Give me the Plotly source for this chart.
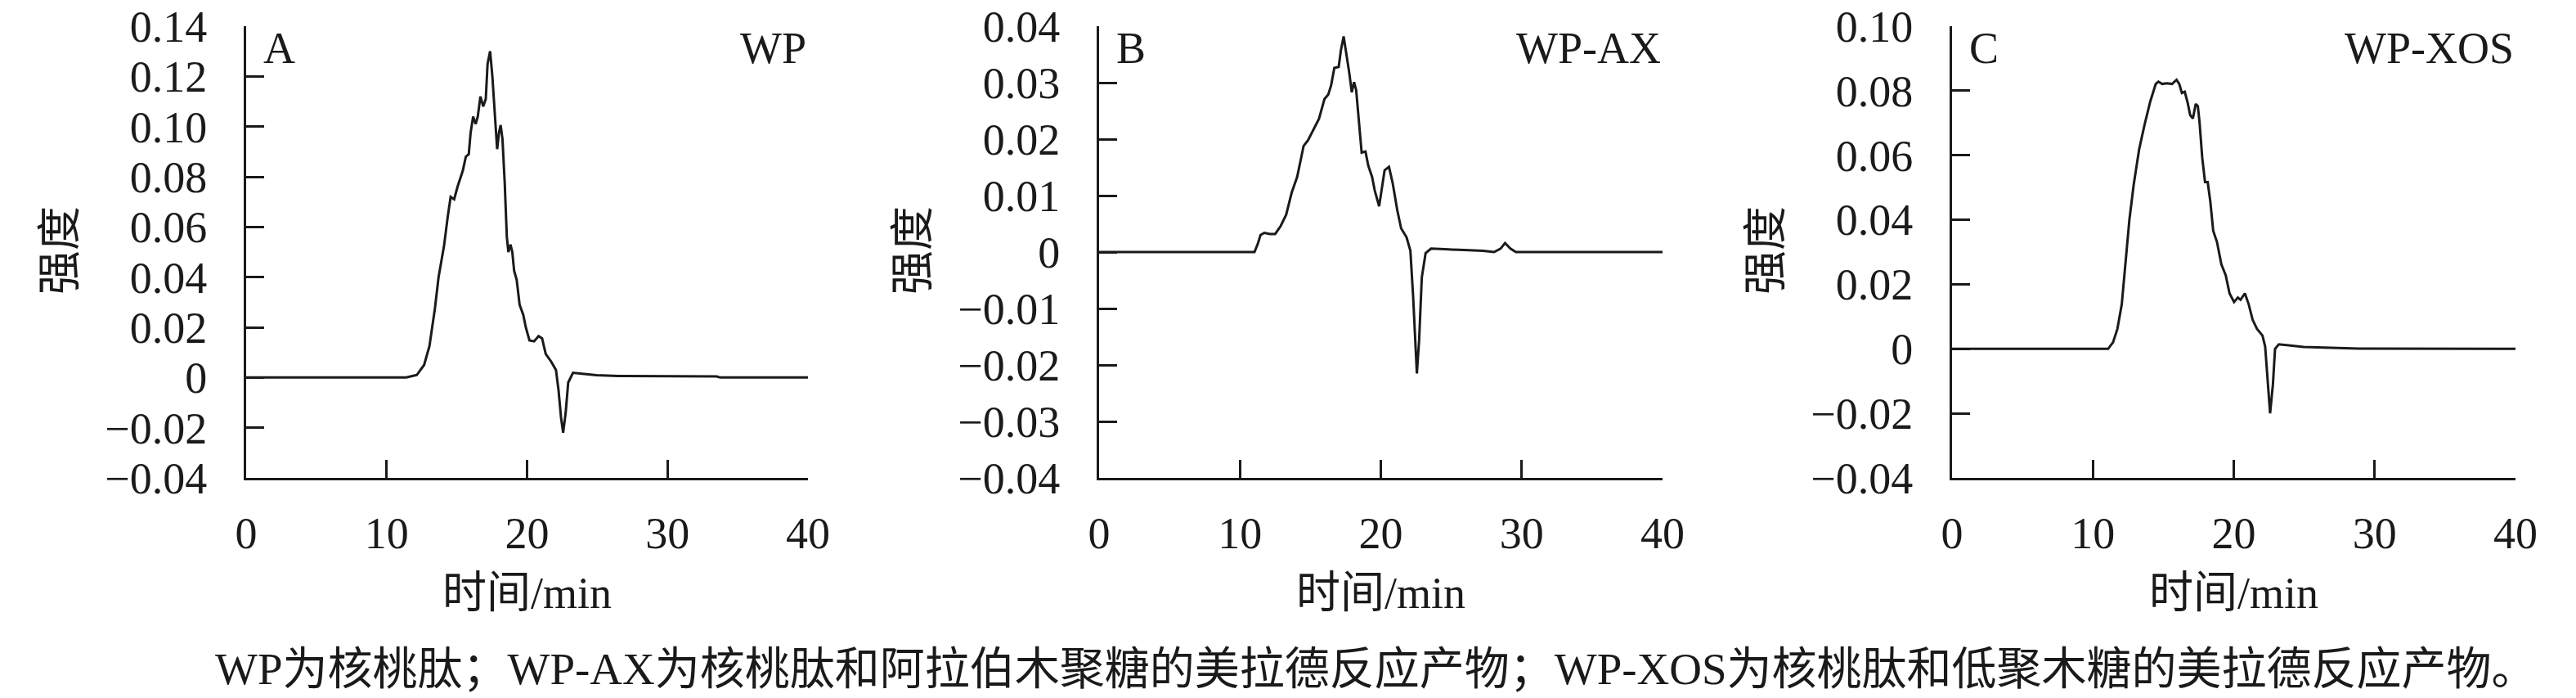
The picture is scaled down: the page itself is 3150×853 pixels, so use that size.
import plotly.graph_objects as go

# ---------------- data ----------------
time_wp = [0, 11.4, 12.15, 12.67, 13.05, 13.44, 13.7, 14.09, 14.35, 14.56, 14.81, 15.05, 15.43, 15.64,
           15.85, 15.98, 16.16, 16.34, 16.49, 16.68, 16.88, 17.06, 17.19, 17.37, 17.53, 17.71, 17.87,
           18.0, 18.12, 18.25, 18.41, 18.56, 18.67, 18.82, 18.95, 19.08, 19.26, 19.47, 19.73, 19.91,
           20.17, 20.5, 20.82, 21.07, 21.33, 21.72, 22.06, 22.24, 22.42, 22.57, 22.75, 22.93, 23.27,
           23.92, 24.95, 26.5, 28.58, 33.5, 33.75, 40]
int_wp = [0, 0, 0.001, 0.005, 0.0125, 0.0275, 0.04, 0.0525, 0.064, 0.072, 0.071, 0.076, 0.0825, 0.088,
          0.089, 0.0975, 0.104, 0.101, 0.104, 0.112, 0.108, 0.111, 0.125, 0.130, 0.12, 0.1025, 0.091,
          0.0975, 0.1006, 0.095, 0.0775, 0.056, 0.05, 0.053, 0.05, 0.0425, 0.039, 0.029, 0.025, 0.02,
          0.0148, 0.0144, 0.0165, 0.0156, 0.0094, 0.0063, 0.003, -0.005, -0.016, -0.022, -0.014, -0.002,
          0.0019, 0.0015, 0.0009, 0.0006, 0.0006, 0.0004, 0.0, 0.0]

time_ax = [0, 11.03, 11.26, 11.46, 11.73, 12.12, 12.5, 12.89, 13.28, 13.67, 14.06, 14.52, 14.83, 15.22,
           15.61, 16.0, 16.27, 16.47, 16.7, 17.01, 17.17, 17.36, 17.55, 17.75, 17.94, 18.1, 18.25, 18.45,
           18.64, 18.91, 19.11, 19.38, 19.57, 19.88, 20.08, 20.27, 20.58, 20.85, 21.17, 21.44, 21.83,
           22.1, 22.29, 22.45, 22.56, 22.72, 22.91, 23.18, 23.57, 24.54, 27.26, 28.04, 28.5, 28.82, 29.2,
           29.59, 40]
int_ax = [0, 0, 0.0014, 0.003, 0.0034, 0.0032, 0.0032, 0.0046, 0.0066, 0.0105, 0.0133, 0.0188, 0.0198,
          0.0216, 0.0236, 0.0271, 0.0279, 0.0295, 0.0326, 0.0328, 0.0358, 0.0382, 0.0354, 0.0319, 0.0283,
          0.0301, 0.0287, 0.0232, 0.0176, 0.0178, 0.0153, 0.0133, 0.0109, 0.0081, 0.0113, 0.0145, 0.0151,
          0.0121, 0.0074, 0.0042, 0.0026, 0.0002, -0.0077, -0.0172, -0.0215, -0.0156, -0.0045, -0.0002,
          0.0006, 0.0005, 0.0002, 0.0, 0.0006, 0.0016, 0.0006, 0.0, 0.0]

time_xos = [0, 11.08, 11.43, 11.74, 12.05, 12.32, 12.59, 12.9, 13.29, 13.68, 14.07, 14.46, 14.65, 14.92,
            15.24, 15.62, 15.94, 16.13, 16.32, 16.52, 16.71, 16.91, 17.1, 17.3, 17.45, 17.57, 17.76,
            17.96, 18.15, 18.34, 18.54, 18.81, 19.12, 19.43, 19.7, 20.02, 20.29, 20.48, 20.79, 21.06,
            21.34, 21.65, 22.04, 22.23, 22.43, 22.58, 22.78, 22.93, 23.2, 23.79, 24.95, 26.89, 28.84, 40]
int_xos = [0, 0, 0.002, 0.0062, 0.0138, 0.0276, 0.04, 0.051, 0.062, 0.0697, 0.0766, 0.0821, 0.0828,
           0.0821, 0.0823, 0.0821, 0.0834, 0.0821, 0.0793, 0.0797, 0.0766, 0.0724, 0.0714, 0.0759, 0.0752,
           0.0703, 0.0593, 0.0517, 0.0517, 0.0455, 0.0366, 0.0331, 0.0262, 0.0228, 0.0172, 0.0145, 0.0159,
           0.0152, 0.0172, 0.0138, 0.009, 0.0062, 0.0041, 0.0007, -0.0124, -0.02, -0.011, 0.0, 0.0014,
           0.0011, 0.0006, 0.0003, 0.0001, 0.0]

x_ticks = [0, 10, 20, 30, 40]
x_ticktext = ["0", "10", "20", "30", "40"]
y_ticks_a = [-0.04, -0.02, 0, 0.02, 0.04, 0.06, 0.08, 0.10, 0.12, 0.14]
y_ticktext_a = ["\u22120.04", "\u22120.02", "0", "0.02", "0.04", "0.06", "0.08", "0.10", "0.12", "0.14"]
y_ticks_b = [-0.04, -0.03, -0.02, -0.01, 0, 0.01, 0.02, 0.03, 0.04]
y_ticktext_b = ["\u22120.04", "\u22120.03", "\u22120.02", "\u22120.01", "0", "0.01", "0.02", "0.03", "0.04"]
y_ticks_c = [-0.04, -0.02, 0, 0.02, 0.04, 0.06, 0.08, 0.10]
y_ticktext_c = ["\u22120.04", "\u22120.02", "0", "0.02", "0.04", "0.06", "0.08", "0.10"]

panel_letters = ["A", "B", "C"]
panel_names = ["WP", "WP-AX", "WP-XOS"]
x_title = "时间/min"
y_title = "强度"
caption = "WP为核桃肽；WP-AX为核桃肽和阿拉伯木聚糖的美拉德反应产物；WP-XOS为核桃肽和低聚木糖的美拉德反应产物。"

# ---------------- figure ----------------
W, H = 3150, 853
OFF = 0  # page body margin removed below, so paper pixels == screen pixels
FONT = "Liberation Serif, 'Times New Roman', 'Noto Sans CJK SC', serif"
FS = 54
INK = "#1a1a1a"

domains_px = [(301 - OFF, 988 - OFF), (1344 - OFF, 2033 - OFF), (2387 - OFF, 3076 - OFF)]
y_top_px, y_bot_px = 32 - OFF, 584 - OFF
ydom = [(H - y_bot_px) / H, (H - y_top_px) / H]
ph = y_bot_px - y_top_px


def yfrac(py):
    """paper pixel row -> fraction of the y domain"""
    return (y_bot_px - py) / ph


series = [(time_wp, int_wp), (time_ax, int_ax), (time_xos, int_xos)]
yranges = [[-0.04, 0.14], [-0.04, 0.04], [-0.04, 0.10]]
yticks = [(y_ticks_a, y_ticktext_a), (y_ticks_b, y_ticktext_b), (y_ticks_c, y_ticktext_c)]

fig = go.Figure()
annotations = []
for i, ((tx, ty), yr, (tv, tt), (l, r)) in enumerate(zip(series, yranges, yticks, domains_px)):
    n = "" if i == 0 else str(i + 1)
    fig.add_trace(go.Scatter(x=tx, y=ty, mode="lines", xaxis="x" + n, yaxis="y" + n,
                             line=dict(color=INK, width=3), showlegend=False, hoverinfo="skip"))
    axis_common = dict(showline=True, linecolor=INK, linewidth=3, ticks="inside", ticklen=22,
                       tickwidth=3, tickcolor=INK, showgrid=False, zeroline=False, automargin=False,
                       ticklabeloverflow="allow",
                       tickfont=dict(family=FONT, size=FS, color=INK))
    fig.layout["xaxis" + n] = dict(domain=[l / W, r / W], range=[0, 40], anchor="y" + n,
                                   tickmode="array", tickvals=x_ticks, ticktext=x_ticktext,
                                   ticklabelstandoff=18, **axis_common)
    fig.layout["yaxis" + n] = dict(domain=ydom, range=yr, anchor="x" + n,
                                   tickmode="array", tickvals=tv, ticktext=tt,
                                   ticklabelstandoff=34, **axis_common)
    xd = "x" + n + " domain"
    yd = "y" + n + " domain"
    annotations.append(dict(text=panel_letters[i], xref=xd, yref=yd, x=0.028, y=yfrac(59 - OFF),
                            xanchor="left", yanchor="middle", showarrow=False,
                            font=dict(family=FONT, size=FS, color=INK)))
    annotations.append(dict(text=panel_names[i], xref=xd, yref=yd, x=1.0, y=yfrac(59 - OFF),
                            xanchor="right", yanchor="middle", showarrow=False,
                            font=dict(family=FONT, size=FS, color=INK)))
    annotations.append(dict(text=x_title, xref="paper", yref="paper", x=(l + r) / 2 / W,
                            y=(H - (725 - OFF)) / H, xanchor="center", yanchor="middle",
                            showarrow=False, font=dict(family=FONT, size=FS, color=INK)))
    annotations.append(dict(text=y_title, xref="paper", yref="paper", x=(l - 227) / W,
                            y=(H - (306 - OFF)) / H, xanchor="center", yanchor="middle",
                            showarrow=False, textangle=-90,
                            font=dict(family=FONT, size=FS, color=INK)))

annotations.append(dict(text=caption, xref="paper", yref="paper", x=(261 - OFF) / W,
                        y=(H - (817 - OFF)) / H, xanchor="left", yanchor="middle", showarrow=False,
                        font=dict(family=FONT, size=55, color=INK)))

fig.update_layout(width=W, height=H, margin=dict(l=0, r=0, t=0, b=0),
                  paper_bgcolor="white", plot_bgcolor="white", annotations=annotations,
                  showlegend=False)

fig.write_html("out.html", config={"displayModeBar": False},
               post_script="document.body.style.margin='0';document.body.style.overflow='hidden';")
